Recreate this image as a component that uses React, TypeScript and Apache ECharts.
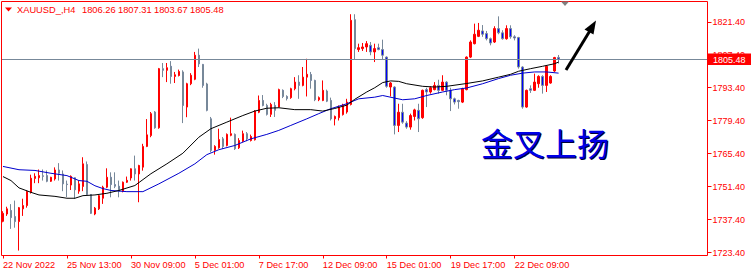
import React, { useEffect, useRef } from "react";
import * as echarts from "echarts";

// ---- data (XAUUSD H4) ----
const opens = [
  1736.7, 1739.8, 1741.3, 1738.7, 1736.6, 1742.0, 1743.4, 1749.0, 1754.9, 1755.2,
  1756.0, 1756.1, 1753.7, 1754.7, 1758.5, 1756.8, 1752.5, 1752.1, 1755.2, 1749.5,
  1751.5, 1760.8, 1748.1, 1739.8, 1742.0, 1746.5, 1751.2, 1755.4, 1752.3, 1751.6,
  1749.5, 1753.3, 1755.1, 1759.0, 1756.8, 1759.7, 1768.5, 1773.1, 1783.1, 1776.4,
  1801.5, 1800.8, 1802.5, 1798.2, 1798.6, 1800.1, 1785.2, 1795.1, 1797.0, 1807.2,
  1803.3, 1795.0, 1780.2, 1766.8, 1767.9, 1771.7, 1768.9, 1773.2, 1773.6, 1767.9,
  1770.7, 1773.9, 1771.0, 1771.3, 1783.0, 1788.0, 1785.9, 1782.1, 1785.9, 1785.2,
  1792.3, 1789.7, 1789.2, 1793.0, 1795.8, 1794.4, 1797.9, 1799.0, 1796.5, 1788.3,
  1788.0, 1792.0, 1788.0, 1780.2, 1780.7, 1782.0, 1783.1, 1786.3, 1822.3, 1809.6,
  1810.0, 1810.7, 1811.4, 1808.6, 1810.4, 1809.6, 1806.4, 1793.7, 1793.7, 1777.4,
  1783.0, 1778.4, 1776.7, 1781.2, 1783.8, 1780.7, 1792.6, 1791.6, 1792.6, 1794.4,
  1792.3, 1795.8, 1792.3, 1788.7, 1788.0, 1787.3, 1792.6, 1806.4, 1812.1, 1815.2,
  1817.5, 1816.4, 1814.2, 1812.8, 1818.5, 1816.7, 1814.2, 1818.5, 1815.0, 1814.7,
  1802.2, 1785.2, 1793.0, 1792.3, 1795.1, 1798.2, 1794.4, 1795.4, 1800.5, 1806.26,
];
const highs = [
  1741.0, 1742.9, 1744.0, 1745.5, 1742.8, 1746.3, 1749.8, 1756.5, 1757.1, 1758.7,
  1758.7, 1758.3, 1755.6, 1759.6, 1761.4, 1758.3, 1754.0, 1756.2, 1755.4, 1754.0,
  1763.9, 1762.1, 1748.3, 1742.8, 1748.0, 1751.8, 1759.2, 1757.5, 1757.5, 1754.0,
  1753.6, 1755.7, 1759.2, 1764.6, 1760.7, 1769.6, 1780.1, 1783.1, 1783.5, 1801.8,
  1803.9, 1803.9, 1804.7, 1800.1, 1801.1, 1800.8, 1795.5, 1799.6, 1808.6, 1810.0,
  1803.5, 1795.5, 1781.0, 1769.0, 1776.0, 1772.5, 1774.0, 1780.7, 1774.0, 1772.0,
  1775.2, 1774.6, 1773.5, 1783.9, 1790.1, 1790.3, 1786.6, 1787.0, 1787.3, 1793.0,
  1792.7, 1790.2, 1793.4, 1797.9, 1798.7, 1802.2, 1805.7, 1800.1, 1796.8, 1789.7,
  1796.5, 1792.6, 1789.2, 1781.6, 1785.9, 1786.6, 1788.7, 1824.6, 1824.6, 1812.1,
  1812.4, 1813.2, 1812.8, 1812.1, 1812.1, 1813.8, 1806.7, 1795.8, 1794.0, 1786.6,
  1786.6, 1779.2, 1782.4, 1784.5, 1786.6, 1792.6, 1793.4, 1794.0, 1795.8, 1796.8,
  1798.7, 1796.2, 1793.4, 1789.2, 1788.3, 1793.4, 1806.7, 1813.5, 1820.6, 1820.9,
  1820.0, 1817.5, 1814.7, 1819.5, 1823.7, 1817.8, 1819.9, 1819.9, 1815.7, 1815.0,
  1802.5, 1792.6, 1794.4, 1799.4, 1798.7, 1798.7, 1802.9, 1798.7, 1806.5, 1807.31,
];
const lows = [
  1736.3, 1739.0, 1733.5, 1734.0, 1724.3, 1739.0, 1742.5, 1748.5, 1752.9, 1752.9,
  1754.0, 1753.3, 1753.4, 1754.0, 1754.0, 1749.5, 1747.0, 1750.0, 1746.2, 1748.4,
  1749.5, 1747.9, 1739.8, 1739.3, 1741.5, 1744.1, 1750.8, 1746.9, 1750.8, 1746.9,
  1749.0, 1753.0, 1754.0, 1754.0, 1744.8, 1758.2, 1768.2, 1772.4, 1776.0, 1776.0,
  1797.9, 1795.8, 1795.1, 1795.4, 1798.2, 1778.4, 1780.9, 1794.5, 1796.6, 1802.2,
  1793.4, 1783.4, 1766.0, 1765.0, 1767.5, 1767.4, 1768.5, 1772.8, 1767.0, 1767.4,
  1770.3, 1770.7, 1770.6, 1771.0, 1782.6, 1785.5, 1781.6, 1781.0, 1781.0, 1785.0,
  1789.0, 1788.0, 1788.7, 1792.3, 1788.7, 1794.0, 1789.7, 1793.0, 1787.7, 1787.7,
  1787.7, 1787.3, 1779.5, 1777.4, 1779.5, 1781.6, 1782.4, 1785.9, 1805.3, 1808.6,
  1809.0, 1808.6, 1807.2, 1804.3, 1809.3, 1805.3, 1793.4, 1789.7, 1773.6, 1774.6,
  1778.1, 1776.0, 1775.6, 1779.5, 1774.6, 1780.2, 1785.2, 1790.9, 1792.3, 1790.9,
  1792.0, 1790.2, 1783.5, 1786.3, 1784.5, 1786.9, 1792.3, 1806.0, 1811.8, 1814.9,
  1815.0, 1813.5, 1811.4, 1812.4, 1816.1, 1813.8, 1813.8, 1814.2, 1813.5, 1801.5,
  1784.5, 1784.9, 1791.2, 1792.0, 1793.4, 1790.9, 1791.6, 1795.1, 1800.1, 1803.67,
];
const closes = [
  1740.1, 1742.0, 1738.3, 1736.6, 1742.5, 1743.4, 1749.4, 1755.0, 1755.8, 1756.1,
  1755.8, 1753.7, 1755.4, 1758.5, 1757.1, 1752.6, 1752.3, 1755.8, 1750.1, 1752.6,
  1761.1, 1748.1, 1740.1, 1742.3, 1747.6, 1751.2, 1755.4, 1752.3, 1751.6, 1749.5,
  1753.3, 1754.1, 1759.0, 1756.8, 1760.4, 1768.5, 1773.4, 1782.4, 1776.4, 1801.5,
  1800.8, 1801.9, 1798.2, 1798.9, 1800.3, 1785.9, 1795.1, 1798.7, 1807.2, 1803.5,
  1794.4, 1783.8, 1766.8, 1768.5, 1771.4, 1768.5, 1773.6, 1773.9, 1767.5, 1771.0,
  1773.9, 1771.7, 1772.7, 1783.5, 1788.0, 1785.9, 1782.1, 1786.3, 1783.8, 1792.6,
  1789.7, 1788.8, 1793.0, 1795.8, 1794.4, 1797.9, 1799.1, 1796.5, 1788.3, 1789.2,
  1792.3, 1787.7, 1780.2, 1781.2, 1785.2, 1785.9, 1787.3, 1822.0, 1810.0, 1810.4,
  1810.7, 1812.1, 1808.6, 1810.0, 1809.6, 1807.2, 1794.0, 1795.4, 1777.4, 1783.0,
  1778.8, 1776.7, 1781.6, 1784.0, 1780.2, 1792.3, 1791.6, 1793.4, 1794.4, 1792.3,
  1795.8, 1792.3, 1788.7, 1787.3, 1787.5, 1793.0, 1806.4, 1812.8, 1816.1, 1817.8,
  1816.1, 1814.2, 1812.4, 1818.5, 1816.7, 1814.2, 1818.5, 1815.0, 1814.5, 1802.2,
  1785.2, 1792.3, 1792.3, 1795.8, 1798.2, 1794.4, 1802.5, 1798.2, 1806.2, 1805.48,
];

// moving averages: [bar index, value]
const fastMA = [
  [0, 1755.7], [2, 1754.0], [4, 1750.9], [7, 1749.0], [9, 1747.9], [13, 1747.3],
  [16, 1746.5], [18, 1746.5], [20, 1747.6], [23, 1747.9], [26, 1748.6], [29, 1749.8],
  [33, 1751.9], [37, 1756.9], [41, 1761.1], [45, 1765.6], [49, 1772.4], [52, 1776.0],
  [56, 1778.8], [60, 1781.6], [63, 1783.5], [66, 1784.7], [69, 1784.9], [73, 1784.1],
  [77, 1784.1], [80, 1783.5], [83, 1784.6], [86, 1786.0], [88, 1788.5], [91, 1791.6],
  [93, 1793.4], [95, 1795.6], [97, 1796.3], [99, 1796.1], [101, 1795.1], [105, 1794.0],
  [108, 1793.7], [111, 1794.0], [116, 1795.2], [120, 1796.3], [124, 1797.9], [127, 1799.1],
  [129, 1800.4], [132, 1801.5], [135, 1802.5], [138, 1803.6], [139, 1804.3],
];
const slowMA = [
  [0, 1760.0], [4, 1758.6], [8, 1758.3], [12, 1757.1], [16, 1756.1], [19, 1754.0],
  [21, 1753.7], [23, 1751.8], [25, 1750.6], [27, 1749.8], [31, 1749.3], [35, 1749.3],
  [39, 1752.6], [44, 1757.1], [48, 1761.1], [51, 1765.0], [54, 1767.1], [58, 1768.9],
  [62, 1771.7], [66, 1773.6], [69, 1775.3], [72, 1777.4], [76, 1780.2], [79, 1782.4],
  [82, 1784.5], [86, 1786.6], [89, 1788.7], [93, 1789.4], [95, 1790.1], [98, 1789.0],
  [100, 1788.3], [103, 1788.7], [106, 1790.1], [110, 1791.6], [113, 1792.6], [116, 1793.3],
  [120, 1795.1], [124, 1797.3], [127, 1798.7], [130, 1799.6], [133, 1800.1], [136, 1800.1],
  [139, 1799.6],
];

const slotCount = 177; // bars that fit in the window (chart shift leaves the rest empty)
const tickStep = 16;
const timeLabels = [
  "22 Nov 2022", "25 Nov 13:00", "30 Nov 09:00", "5 Dec 01:00", "7 Dec 17:00",
  "12 Dec 09:00", "15 Dec 01:00", "19 Dec 17:00", "22 Dec 09:00",
];
const priceTicks = [1723.4, 1737.4, 1751.4, 1765.4, 1779.4, 1793.4, 1807.4, 1821.4];
const symbolName = "XAUUSD_,H4";
const annotation = "金叉上扬";

const RED = "#ff0000";
const GRAY = "#778899";
const FONT = "Liberation Sans";

export default function App() {
  const ref = useRef<HTMLDivElement>(null);

  useEffect(() => {
    if (!ref.current) return;
    const chart = echarts.init(ref.current, undefined, { renderer: "svg" });
    const last = opens.length - 1;
    const lastPrice = closes[last];
    const categories = opens.map((_, i) => String(i));
    while (categories.length < slotCount) categories.push(String(categories.length));
    const candles = opens.map((o, i) => [o, closes[i], lows[i], highs[i]]);
    const showTick = (i: number) => i % tickStep === 0 && i / tickStep < timeLabels.length;
    const headerNums = [opens[last], highs[last], lows[last], closes[last]];

    chart.setOption({
      animation: false,
      backgroundColor: "#ffffff",
      grid: { left: 0.5, top: 1.5, width: 708, height: 254, show: false },
      xAxis: {
        type: "category",
        data: categories,
        boundaryGap: true,
        axisLine: { show: false },
        axisTick: {
          show: true, alignWithLabel: true, interval: (i: number) => showTick(i),
          length: 3, lineStyle: { color: RED },
        },
        axisLabel: {
          interval: (i: number) => showTick(i),
          formatter: (_v: string, i: number) => timeLabels[i / tickStep] ?? "",
          color: RED, fontSize: 9.2, fontFamily: FONT, align: "left", margin: 5,
        },
        splitLine: { show: false },
      },
      yAxis: {
        type: "value",
        position: "right",
        offset: -1,
        min: 1722.2,
        max: 1830.0,
        axisLine: { show: false },
        axisTick: { show: true, length: 4, lineStyle: { color: RED }, customValues: priceTicks },
        axisLabel: {
          customValues: priceTicks,
          formatter: (v: number) => v.toFixed(2),
          color: RED, fontSize: 9, fontFamily: FONT, margin: 5,
        },
        splitLine: { show: false },
      },
      series: [
        {
          type: "candlestick",
          data: candles,
          barWidth: 2,
          itemStyle: {
            color: RED, color0: "#0000ff", borderColor: RED, borderColor0: GRAY, borderWidth: 1,
          },
          markLine: {
            silent: true,
            symbol: ["none", "none"],
            label: { show: false },
            lineStyle: { color: GRAY, width: 1, type: "solid" },
            data: [{ yAxis: lastPrice }],
          },
          z: 3,
        },
        {
          type: "line", data: slowMA, showSymbol: false, symbol: "none",
          lineStyle: { color: "#0000cd", width: 1 }, z: 4,
        },
        {
          type: "line", data: fastMA, showSymbol: false, symbol: "none",
          lineStyle: { color: "#000000", width: 1 }, z: 4,
        },
      ],
      graphic: [
        {
          type: "rect", z: 90, silent: true,
          shape: { x: 1.5, y: 1.5, width: 706, height: 254 },
          style: { fill: "none", stroke: RED, lineWidth: 1 },
        },
        { type: "polygon", z: 100, shape: { points: [[5, 7.5], [12, 7.5], [8.5, 11.5]] }, style: { fill: RED } },
        {
          type: "text", z: 100, x: 17, y: 9.5,
          style: { text: symbolName, fill: RED, fontSize: 9.3, fontFamily: FONT, verticalAlign: "middle" },
        },
        ...headerNums.map((n, k) => ({
          type: "text", z: 100, x: 82 + 36 * k, y: 9.5,
          style: { text: n.toFixed(2), fill: RED, fontSize: 9.3, fontFamily: FONT, verticalAlign: "middle" },
        })),
        { type: "polygon", z: 100, shape: { points: [[561, 1.5], [569, 1.5], [565, 6]] }, style: { fill: "#808080" } },
        {
          type: "text", z: 100, x: 482, y: 142.5,
          style: { text: annotation, fill: "#000033", fontSize: 32, fontFamily: "Noto Sans CJK SC", verticalAlign: "middle" },
        },
        {
          type: "text", z: 101, x: 481, y: 141.5,
          style: { text: annotation, fill: "#0000e6", fontSize: 32, fontFamily: "Noto Sans CJK SC", verticalAlign: "middle" },
        },
        {
          type: "line", z: 100, shape: { x1: 566, y1: 70, x2: 591, y2: 29 },
          style: { stroke: "#000000", lineWidth: 3 },
        },
        {
          type: "polygon", z: 100, shape: { points: [[596, 20.5], [584.5, 29.5], [593.5, 34.5]] },
          style: { fill: "#000000" },
        },
        { type: "rect", z: 100, shape: { x: 708, y: 53.5, width: 43, height: 11.5 }, style: { fill: RED } },
        {
          type: "text", z: 101, x: 713, y: 59.5,
          style: { text: lastPrice.toFixed(2), fill: "#ffffff", fontSize: 9, fontFamily: FONT, verticalAlign: "middle" },
        },
      ],
    });
    return () => chart.dispose();
  }, []);

  return (
    <div
      ref={ref}
      style={{ position: "absolute", left: 0, top: 0, width: 754, height: 275, background: "#fff" }}
    />
  );
}
